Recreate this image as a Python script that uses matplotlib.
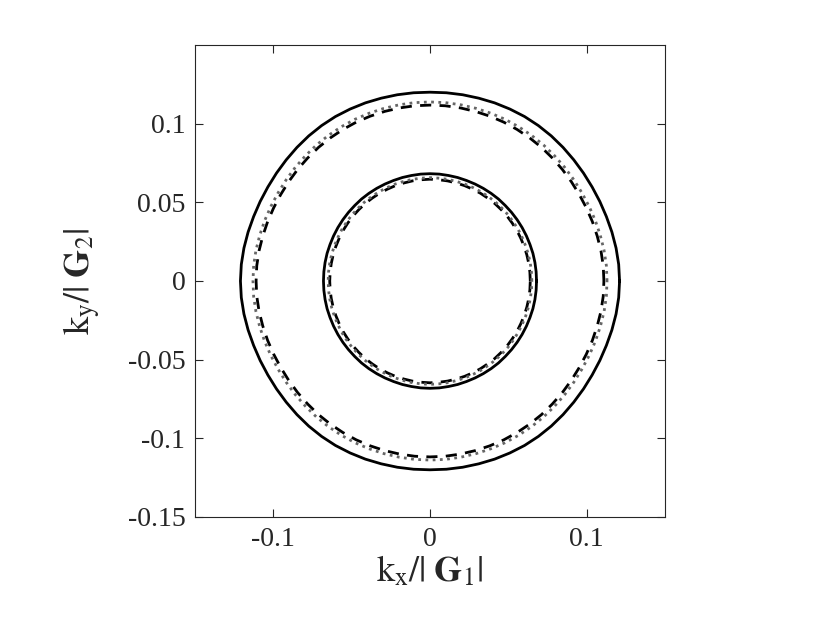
import numpy as np
import matplotlib
matplotlib.use("Agg")
import matplotlib.pyplot as plt
from matplotlib.ticker import FixedLocator, FixedFormatter

plt.rcParams['font.family'] = ['Liberation Serif', 'DejaVu Serif']
plt.rcParams['mathtext.fontset'] = 'stix'
plt.rcParams['axes.unicode_minus'] = False

# polar angles (degrees) for first quadrant; curves mirrored to full loop
angles_deg = [0, 5, 10, 15, 20, 25, 30, 35, 40, 45, 50, 55, 60, 65, 70, 75, 80, 85, 90]
outer_solid = [0.1210, 0.1209, 0.1206, 0.1202, 0.1198, 0.1196, 0.1195, 0.1196, 0.1198, 0.1201,
               0.1204, 0.1206, 0.1207, 0.1206, 0.1205, 0.1203, 0.1202, 0.1201, 0.1200]
outer_dashed = [0.1110, 0.1110, 0.1108, 0.1105, 0.1103, 0.1101, 0.1100, 0.1101, 0.1103, 0.1105,
                0.1108, 0.1110, 0.1112, 0.1114, 0.1115, 0.1116, 0.1117, 0.1118, 0.1118]
outer_dotted = [0.1130, 0.1130, 0.1128, 0.1125, 0.1123, 0.1121, 0.1120, 0.1121, 0.1123, 0.1125,
                0.1128, 0.1130, 0.1132, 0.1134, 0.1135, 0.1136, 0.1137, 0.1138, 0.1138]
inner_solid = [0.0680, 0.0680, 0.0680, 0.0680, 0.0679, 0.0679, 0.0679, 0.0679, 0.0679, 0.0679,
               0.0680, 0.0680, 0.0680, 0.0680, 0.0680, 0.0681, 0.0681, 0.0682, 0.0682]
inner_dashed = [0.0640, 0.0640, 0.0640, 0.0640, 0.0640, 0.0640, 0.0641, 0.0641, 0.0642, 0.0642,
                0.0643, 0.0643, 0.0644, 0.0644, 0.0645, 0.0645, 0.0646, 0.0646, 0.0647]
inner_dotted = [0.0650, 0.0650, 0.0650, 0.0650, 0.0650, 0.0650, 0.0651, 0.0651, 0.0652, 0.0652,
                0.0653, 0.0653, 0.0654, 0.0654, 0.0655, 0.0655, 0.0656, 0.0656, 0.0657]

xticks = [-0.1, 0, 0.1]
xticklabels = ['-0.1', '0', '0.1']
yticks = [-0.15, -0.1, -0.05, 0, 0.05, 0.1]
yticklabels = ['-0.15', '-0.1', '-0.05', '0', '0.05', '0.1']


def full_loop(r_quarter):
    a = np.array(angles_deg, dtype=float)
    r = np.array(r_quarter, dtype=float)
    # mirror: Q1 -> Q2 -> Q3 -> Q4
    a_all = np.concatenate([a, 180 - a[::-1][1:], 180 + a[1:], 360 - a[::-1][1:]])
    r_all = np.concatenate([r, r[::-1][1:], r[1:], r[::-1][1:]])
    t = np.deg2rad(a_all)
    return r_all * np.cos(t), r_all * np.sin(t)


fig = plt.figure(figsize=(8.3, 6.23), dpi=100)
ax = fig.add_axes([195/830, 106/623, 470/830, 472/623])

for data, style in [
    (outer_solid, dict(color='black', lw=2.0, ls='-')),
    (inner_solid, dict(color='black', lw=2.0, ls='-')),
    (outer_dashed, dict(color='black', lw=2.0, ls=(0, (4, 3)))),
    (inner_dashed, dict(color='black', lw=2.0, ls=(0, (4, 3)))),
    (outer_dotted, dict(color='#666666', lw=2.0, ls=(0, (1, 1.6)))),
    (inner_dotted, dict(color='#666666', lw=2.0, ls=(0, (1, 1.6)))),
]:
    x, y = full_loop(data)
    ax.plot(x, y, **style)

ax.set_xlim(-0.15, 0.15)
ax.set_ylim(-0.15, 0.15)
ax.xaxis.set_major_locator(FixedLocator(xticks))
ax.xaxis.set_major_formatter(FixedFormatter(xticklabels))
ax.yaxis.set_major_locator(FixedLocator(yticks))
ax.yaxis.set_major_formatter(FixedFormatter(yticklabels))
ax.tick_params(direction='in', length=6, width=0.8, top=True, right=True,
               labelsize=20, colors='#262626', pad=7)
for sp in ax.spines.values():
    sp.set_linewidth(0.8)
    sp.set_color('#262626')

ax.set_xlabel(r'$\mathrm{k}_\mathrm{x}/|\;\mathbf{G}_1|$', fontsize=26, labelpad=2, color='#262626')
ax.set_ylabel(r'$\mathrm{k}_\mathrm{y}/|\;\mathbf{G}_2|$', fontsize=26, labelpad=18, color='#262626')

fig.savefig('out.png', dpi=100)
